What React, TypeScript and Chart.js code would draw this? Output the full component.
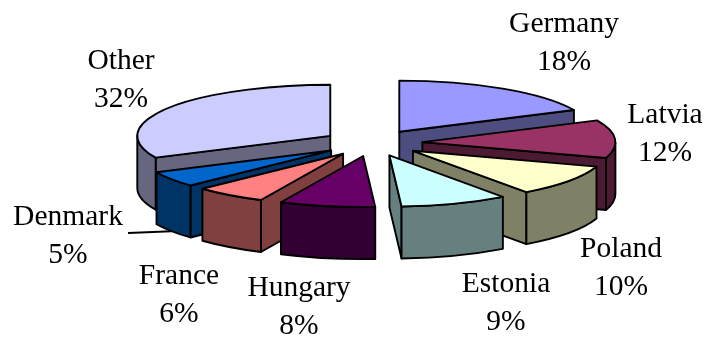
import { useEffect, useRef } from "react";
import { Chart, registerables } from "chart.js";

Chart.register(...registerables);

const categories = ["Germany", "Latvia", "Poland", "Estonia", "Hungary", "France", "Denmark", "Other"];
const shares = [18, 12, 10, 9, 8, 6, 5, 32];
const faceColors = ["#9999FF", "#993366", "#FFFFCC", "#CCFFFF", "#660066", "#FF8080", "#0066CC", "#CCCCFF"];
const wallColors = ["#4D4D80", "#4D1A33", "#808066", "#668080", "#330033", "#804040", "#003366", "#666680"];
// Centre of each two-line label, in category order.
const labelCentres = [
  [564, 43],
  [665, 134],
  [621, 268],
  [506, 303],
  [299, 307],
  [179, 295],
  [68, 236],
  [121, 80],
];

const TILT = 0.265;
const RIM_DEPTH = 52;
const EXPLODE = 50;
const LINE_GAP = 37.5;
const FONT = "29.5px 'Liberation Serif'";

const pie3d = {
  id: "pie3d",
  beforeDatasetsDraw(chart: any) {
    const ctx = chart.ctx as CanvasRenderingContext2D;
    const arcs = chart.getDatasetMeta(0).data as any[];

    const slices = arcs.map((arc, i) => {
      const mid = (arc.startAngle + arc.endAngle) / 2;
      const r = arc.outerRadius;
      return {
        i,
        mid,
        a0: arc.startAngle,
        a1: arc.endAngle,
        rx: r,
        ry: r * TILT,
        x: arc.x + Math.cos(mid) * arc.options.offset,
        y: arc.y + Math.sin(mid) * arc.options.offset * TILT,
      };
    });

    ctx.save();
    ctx.lineWidth = 1.9;
    ctx.lineJoin = "round";
    ctx.strokeStyle = "#000000";

    const paint = (fill: string) => {
      ctx.fillStyle = fill;
      ctx.fill();
      ctx.stroke();
    };

    // Leader line running from the Denmark label to the lower rim of its slice.
    const dk = slices[6];
    ctx.beginPath();
    ctx.moveTo(128, 233);
    ctx.lineTo(dk.x + Math.cos(dk.mid) * dk.rx, dk.y + Math.sin(dk.mid) * dk.ry + RIM_DEPTH);
    ctx.stroke();

    // Painter's order: slices further from the viewer go down first.
    [...slices]
      .sort((p, q) => Math.sin(p.mid) - Math.sin(q.mid))
      .forEach((s) => {
        const wall = wallColors[s.i];

        const cutFace = (angle: number) => {
          const ex = s.x + Math.cos(angle) * s.rx;
          const ey = s.y + Math.sin(angle) * s.ry;
          ctx.beginPath();
          ctx.moveTo(s.x, s.y);
          ctx.lineTo(ex, ey);
          ctx.lineTo(ex, ey + RIM_DEPTH);
          ctx.lineTo(s.x, s.y + RIM_DEPTH);
          ctx.closePath();
          paint(wall);
        };

        if (-Math.cos(s.a0) > 0) cutFace(s.a0);
        if (Math.cos(s.a1) > 0) cutFace(s.a1);

        // Outer wall: only the part of the rim that faces the viewer.
        const from = Math.max(s.a0, 0);
        const to = Math.min(s.a1, Math.PI);
        if (to > from) {
          ctx.beginPath();
          ctx.ellipse(s.x, s.y, s.rx, s.ry, 0, from, to);
          ctx.ellipse(s.x, s.y + RIM_DEPTH, s.rx, s.ry, 0, to, from, true);
          ctx.closePath();
          paint(wall);
        }

        ctx.beginPath();
        ctx.moveTo(s.x, s.y);
        ctx.ellipse(s.x, s.y, s.rx, s.ry, 0, s.a0, s.a1);
        ctx.closePath();
        paint(arcs[s.i].options.backgroundColor);
      });

    // Category name above its percentage.
    const total = shares.reduce((sum, v) => sum + v, 0);
    ctx.fillStyle = "#000000";
    ctx.font = FONT;
    ctx.textAlign = "center";
    ctx.textBaseline = "middle";
    categories.forEach((name, i) => {
      const [cx, cy] = labelCentres[i];
      ctx.fillText(name, cx, cy - LINE_GAP / 2);
      ctx.fillText(`${Math.round((shares[i] / total) * 100)}%`, cx, cy + LINE_GAP / 2);
    });

    ctx.restore();
    return false;
  },
};

export default function App() {
  const ref = useRef<HTMLCanvasElement>(null);

  useEffect(() => {
    const chart = new Chart(ref.current!, {
      type: "pie",
      data: {
        labels: categories,
        datasets: [
          {
            data: shares,
            backgroundColor: faceColors,
            offset: EXPLODE,
            radius: 193,
          } as any,
        ],
      },
      options: {
        animation: false,
        responsive: false,
        events: [],
        layout: { padding: { left: 40, bottom: 53 } },
        plugins: { legend: { display: false }, tooltip: { enabled: false } },
      },
      plugins: [pie3d],
    });
    return () => chart.destroy();
  }, []);

  return (
    <canvas
      ref={ref}
      width={705}
      height={339}
      style={{ position: "absolute", left: 0, top: 0, display: "block" }}
    />
  );
}
